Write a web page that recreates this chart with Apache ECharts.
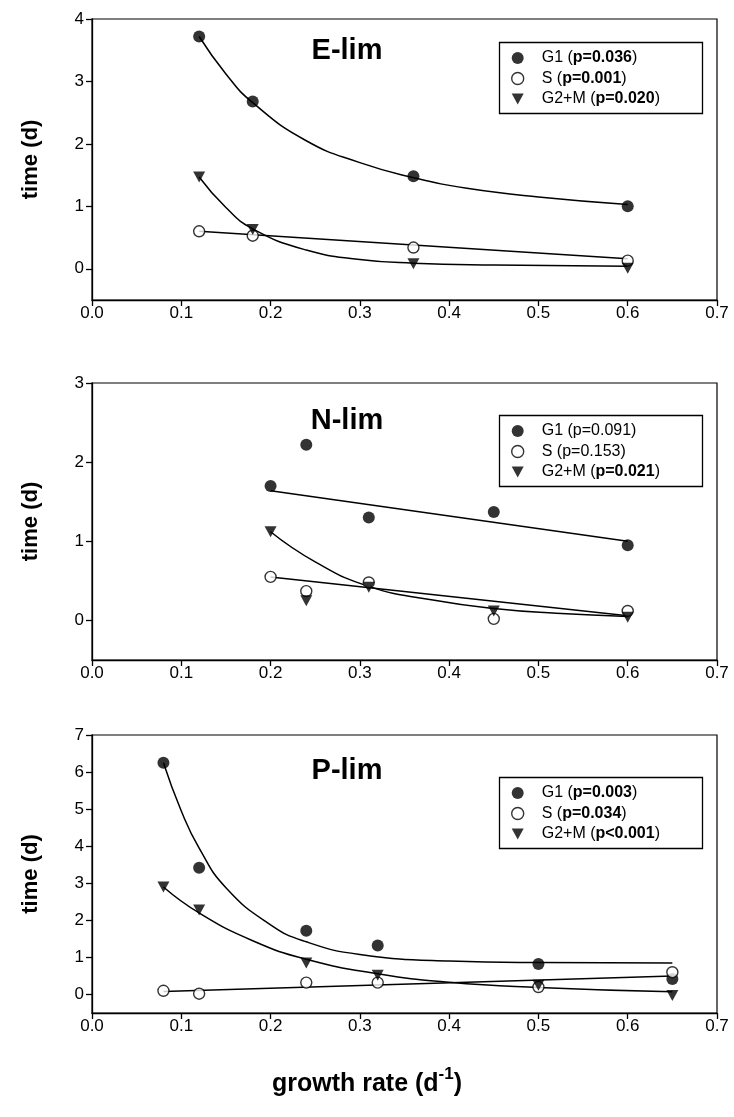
<!DOCTYPE html>
<html>
<head>
<meta charset="utf-8">
<script src="https://cdn.jsdelivr.net/npm/echarts@6/dist/echarts.min.js"></script>
<style>
  html, body { margin: 0; padding: 0; background: #fff; }
  #chart { width: 734px; height: 1117px; }
</style>
</head>
<body>
<div id="chart"></div>
<script>
// 三个面板：E-lim / N-lim / P-lim
const phases = ['G1', 'S', 'G2+M']
const xTicks = [0, 0.1, 0.2, 0.3, 0.4, 0.5, 0.6, 0.7]

// E-lim
const eX = [0.12, 0.18, 0.36, 0.6]
const eG1 = [3.72, 2.68, 1.48, 1.0]
const eS = [0.6, 0.53, 0.34, 0.13]
const eG2M = [1.47, 0.63, 0.08, 0.01]
const eP = ['p=0.036', 'p=0.001', 'p=0.020']
const eBold = [true, true, true]
const eYTicks = [0, 1, 2, 3, 4]
// fitted curves
const eG1FitX = [0.12, 0.15, 0.18, 0.24, 0.3, 0.36, 0.42, 0.5, 0.6]
const eG1FitY = [3.72, 3.12, 2.66, 2.05, 1.7, 1.46, 1.29, 1.15, 1.03]
const eSFitX = [0.12, 0.6]
const eSFitY = [0.6, 0.16]
const eG2MFitX = [0.12, 0.15, 0.18, 0.24, 0.3, 0.36, 0.45, 0.6]
const eG2MFitY = [1.47, 0.98, 0.64, 0.3, 0.15, 0.09, 0.06, 0.04]

// N-lim
const nX = [0.2, 0.24, 0.31, 0.45, 0.6]
const nG1 = [1.7, 2.22, 1.3, 1.37, 0.95]
const nS = [0.55, 0.37, 0.48, 0.02, 0.12]
const nG2M = [1.12, 0.25, 0.42, 0.12, 0.04]
const nP = ['p=0.091', 'p=0.153', 'p=0.021']
const nBold = [false, false, true]
const nYTicks = [0, 1, 2, 3]
const nG1FitX = [0.2, 0.6]
const nG1FitY = [1.64, 1.0]
const nSFitX = [0.2, 0.6]
const nSFitY = [0.55, 0.06]
const nG2MFitX = [0.2, 0.25, 0.31, 0.38, 0.45, 0.52, 0.6]
const nG2MFitY = [1.12, 0.74, 0.43, 0.26, 0.15, 0.09, 0.05]

// P-lim
const pX = [0.08, 0.12, 0.24, 0.32, 0.5, 0.65]
const pG1 = [6.25, 3.42, 1.72, 1.32, 0.82, 0.42]
const pS = [0.1, 0.02, 0.32, 0.32, 0.2, 0.6]
const pG2M = [2.9, 2.28, 0.85, 0.52, 0.25, -0.03]
const pP = ['p=0.003', 'p=0.034', 'p<0.001']
const pBold = [true, true, true]
const pYTicks = [0, 1, 2, 3, 4, 5, 6, 7]
const pG1FitX = [0.08, 0.1, 0.12, 0.15, 0.2, 0.24, 0.3, 0.4, 0.5, 0.65]
const pG1FitY = [6.25, 4.95, 3.95, 2.88, 1.88, 1.42, 1.08, 0.9, 0.86, 0.85]
const pSFitX = [0.08, 0.65]
const pSFitY = [0.08, 0.5]
const pG2MFitX = [0.08, 0.12, 0.18, 0.24, 0.32, 0.4, 0.5, 0.65]
const pG2MFitY = [2.9, 2.2, 1.45, 0.95, 0.56, 0.33, 0.19, 0.07]

const FONT = 'Liberation Sans, Arial, sans-serif'
const triangle = 'path://M0,0L10,0L5,9Z'

const panels = [
  { title: 'E-lim', x: eX, ys: [eG1, eS, eG2M], p: eP, bold: eBold, yMax: 4, yTicks: eYTicks,
    fits: [[eG1FitX, eG1FitY], [eSFitX, eSFitY], [eG2MFitX, eG2MFitY]],
    top: 19, height: 281, titleTop: 31, legendTop: 40 },
  { title: 'N-lim', x: nX, ys: [nG1, nS, nG2M], p: nP, bold: nBold, yMax: 3, yTicks: nYTicks,
    fits: [[nG1FitX, nG1FitY], [nSFitX, nSFitY], [nG2MFitX, nG2MFitY]],
    top: 383, height: 277, titleTop: 401, legendTop: 413 },
  { title: 'P-lim', x: pX, ys: [pG1, pS, pG2M], p: pP, bold: pBold, yMax: 7, yTicks: pYTicks,
    fits: [[pG1FitX, pG1FitY], [pSFitX, pSFitY], [pG2MFitX, pG2MFitY]],
    top: 735, height: 278, titleTop: 751, legendTop: 775 }
]

const grid = [], xAxis = [], yAxis = [], series = [], legend = [], title = [], boxes = []
const symbolStyles = [
  { symbol: 'circle', symbolSize: 12, itemStyle: { color: '#000' } },
  { symbol: 'circle', symbolSize: 11, itemStyle: { color: '#fff', borderColor: '#000', borderWidth: 1.4 } },
  { symbol: triangle, symbolSize: [12, 11], itemStyle: { color: '#000' } }
]

panels.forEach((pn, gi) => {
  grid.push({
    left: 92, right: 17, top: pn.top, height: pn.height,
    show: true, borderColor: '#000', borderWidth: 1.2, backgroundColor: 'transparent'
  })
  xAxis.push({
    gridIndex: gi, type: 'value', min: 0, max: 0.7, interval: 0.1,
    axisLine: { show: true, onZero: false, lineStyle: { color: '#000', width: 1.3 } },
    axisTick: { show: true, length: 6, lineStyle: { color: '#000', width: 1.3 } },
    axisLabel: { color: '#000', fontSize: 17, fontFamily: FONT, margin: 5,
      formatter: v => v.toFixed(1) },
    splitLine: { show: false }
  })
  yAxis.push({
    gridIndex: gi, type: 'value', min: -0.5, max: pn.yMax,
    name: 'time (d)', nameLocation: 'middle', nameGap: 50,
    nameTextStyle: { color: '#000', fontSize: 22, fontWeight: 'bold', fontFamily: FONT },
    axisLine: { show: true, onZero: false, lineStyle: { color: '#000', width: 1.3 } },
    axisTick: { show: true, length: 6, customValues: pn.yTicks, lineStyle: { color: '#000', width: 1.3 } },
    axisLabel: { color: '#000', fontSize: 17, fontFamily: FONT, margin: 8, customValues: pn.yTicks },
    splitLine: { show: false }
  })
  title.push({
    text: pn.title, left: 342, top: pn.titleTop, textAlign: 'center',
    textStyle: { color: '#000', fontSize: 29, fontWeight: 'bold', fontFamily: FONT }
  })
  const names = phases.map(ph => pn.title + ' ' + ph)
  // 拟合曲线
  pn.fits.forEach((f, k) => {
    series.push({
      type: 'line', xAxisIndex: gi, yAxisIndex: gi, smooth: true, showSymbol: false,
      silent: true, z: 2,
      lineStyle: { color: '#000', width: 1.5 },
      data: f[0].map((xv, i) => [xv, f[1][i]])
    })
  })
  // 散点
  pn.ys.forEach((ys, k) => {
    series.push(Object.assign({
      type: 'scatter', name: names[k], xAxisIndex: gi, yAxisIndex: gi, z: 3,
      data: pn.x.map((xv, i) => [xv, ys[i]])
    }, symbolStyles[k]))
  })
  legend.push({
    data: names.map((n, k) => ({ name: n, icon: k === 2 ? triangle : 'circle',
      itemStyle: k === 1 ? { color: '#fff', borderColor: '#000', borderWidth: 1.4 } : { color: '#000' } })),
    orient: 'vertical', left: 511, top: pn.legendTop + 10,
    itemWidth: 12, itemHeight: 12, itemGap: 4.5,
    padding: 0,
    selectedMode: false,
    formatter: name => {
      const k = names.indexOf(name)
      const tag = pn.bold[k] ? 'b' : 'n'
      return '{n|' + phases[k] + ' (}{' + tag + '|' + pn.p[k] + '}{n|)}'
    },
    textStyle: {
      color: '#000', fontSize: 16, fontFamily: FONT, padding: [0, 0, 0, 13],
      rich: {
        n: { fontSize: 16, fontFamily: FONT, color: '#000' },
        b: { fontSize: 16, fontFamily: FONT, color: '#000', fontWeight: 'bold' }
      }
    }
  })
  // legend frame
  boxes.push({
    type: 'rect', left: 497, top: pn.legendTop, silent: true,
    shape: { width: 203, height: 71 },
    style: { fill: 'none', stroke: '#000', lineWidth: 1.3 }
  })
})

const chart = echarts.init(document.getElementById('chart'), null, { renderer: 'canvas' })
chart.setOption({
  animation: false,
  backgroundColor: '#fff',
  title: title,
  grid: grid,
  xAxis: xAxis,
  yAxis: yAxis,
  legend: legend,
  series: series,
  graphic: boxes.concat([{
    type: 'text', left: 'center', top: 1066,
    style: {
      text: '{a|growth rate (d}{s|-1}{a|)}',
      rich: {
        a: { fontSize: 25, fontWeight: 'bold', fontFamily: FONT, fill: '#000', lineHeight: 32 },
        s: { fontSize: 17, fontWeight: 'bold', fontFamily: FONT, fill: '#000', padding: [0, 0, 20, 0] }
      }
    }
  }])
})
</script>
</body>
</html>
